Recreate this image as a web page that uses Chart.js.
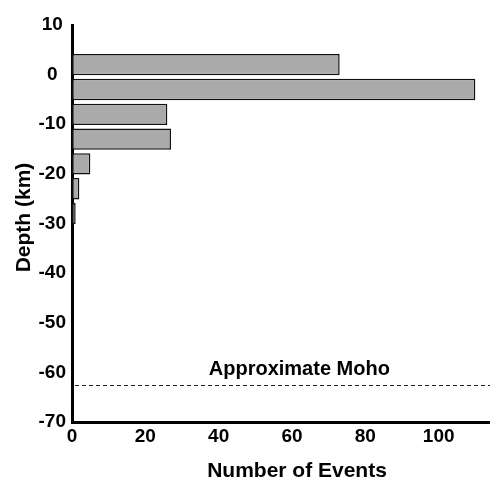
<!DOCTYPE html>
<html>
<head>
<meta charset="utf-8">
<script src="https://cdn.jsdelivr.net/npm/chart.js@4.4.0/dist/chart.umd.min.js"></script>
<style>
  html, body { margin: 0; padding: 0; background: #fff; }
  #wrap { width: 490px; height: 480px; }
</style>
</head>
<body>
<div id="wrap"><canvas id="chartDepth"></canvas></div>
<script>
// Datos (profundidad en km, numero de eventos)
const depthBins = [2, -3, -8, -13, -18, -23, -28];
const eventCounts = [73, 110, 26, 27, 5, 2, 1];
const depthRange = [-70, 10];
const countRange = [0, 114];
const depthStep = 10;
const countStep = 20;
const mohoDepth = -62.5;
const mohoLabel = 'Approximate Moho';
const mohoLabelAt = 62; // donde va el texto, en eventos
const xTitle = 'Number of Events';
const yTitle = 'Depth (km)';

const FONT = "'Liberation Sans', Arial, Helvetica, sans-serif";

// Linea discontinua del Moho con su texto
const mohoPlugin = {
    id: 'moho',
    afterDatasetsDraw(chart) {
        const { ctx, chartArea, scales: { x, y } } = chart;
        const py = Math.round(y.getPixelForValue(mohoDepth)) + 0.5;
        ctx.save();
        ctx.strokeStyle = '#222';
        ctx.lineWidth = 1;
        ctx.setLineDash([4, 3]);
        ctx.beginPath();
        ctx.moveTo(chartArea.left + 3, py);
        ctx.lineTo(chartArea.right, py);
        ctx.stroke();
        ctx.setLineDash([]);
        ctx.fillStyle = '#000';
        ctx.font = `bold 20px ${FONT}`;
        ctx.textAlign = 'center';
        ctx.textBaseline = 'alphabetic';
        ctx.fillText(mohoLabel, x.getPixelForValue(mohoLabelAt), py - 11);
        ctx.restore();
    }
};

// Titulos de los ejes
const titlesPlugin = {
    id: 'axisTitles',
    afterDraw(chart) {
        const { ctx, chartArea } = chart;
        ctx.save();
        ctx.fillStyle = '#000';
        ctx.font = `bold 21px ${FONT}`;
        ctx.textAlign = 'center';
        ctx.textBaseline = 'alphabetic';
        ctx.fillText(xTitle, chartArea.left + 225, chart.height - 3.5);
        ctx.translate(29.5, chartArea.top + 192.5);
        ctx.rotate(-Math.PI / 2);
        ctx.fillText(yTitle, 0, 0);
        ctx.restore();
    }
};

const tickFont = { family: FONT, size: 19, weight: 'bold' };

const ctx = document.getElementById('chartDepth').getContext('2d');

new Chart(ctx, {
    type: 'bar',
    data: {
        datasets: [{
            data: depthBins.map((d, i) => ({ x: eventCounts[i], y: d })),
            backgroundColor: '#aaaaaa',
            borderColor: '#111111',
            borderWidth: 1.5,
            borderSkipped: false,
            barPercentage: 0.86,
            categoryPercentage: 1
        }]
    },
    options: {
        indexAxis: 'y',
        responsive: true,
        maintainAspectRatio: false,
        animation: false,
        layout: { padding: { top: 25, right: 0, bottom: 0, left: 0 } },
        plugins: {
            legend: { display: false },
            tooltip: { enabled: false }
        },
        scales: {
            x: {
                type: 'linear',
                min: countRange[0],
                max: countRange[1],
                grid: { display: false, drawTicks: false },
                border: { display: true, color: '#000', width: 3 },
                ticks: {
                    stepSize: countStep,
                    includeBounds: false,
                    padding: 3,
                    color: '#000',
                    font: tickFont
                },
                afterFit(scale) { scale.height = 58; }
            },
            y: {
                type: 'linear',
                offset: false,
                min: depthRange[0],
                max: depthRange[1],
                grid: { display: false, drawTicks: false },
                border: { display: true, color: '#000', width: 3 },
                ticks: {
                    stepSize: depthStep,
                    crossAlign: 'center',
                    padding: 6,
                    color: '#000',
                    font: tickFont
                },
                afterFit(scale) { scale.width = 72; }
            }
        }
    },
    plugins: [mohoPlugin, titlesPlugin]
});
</script>
</body>
</html>
